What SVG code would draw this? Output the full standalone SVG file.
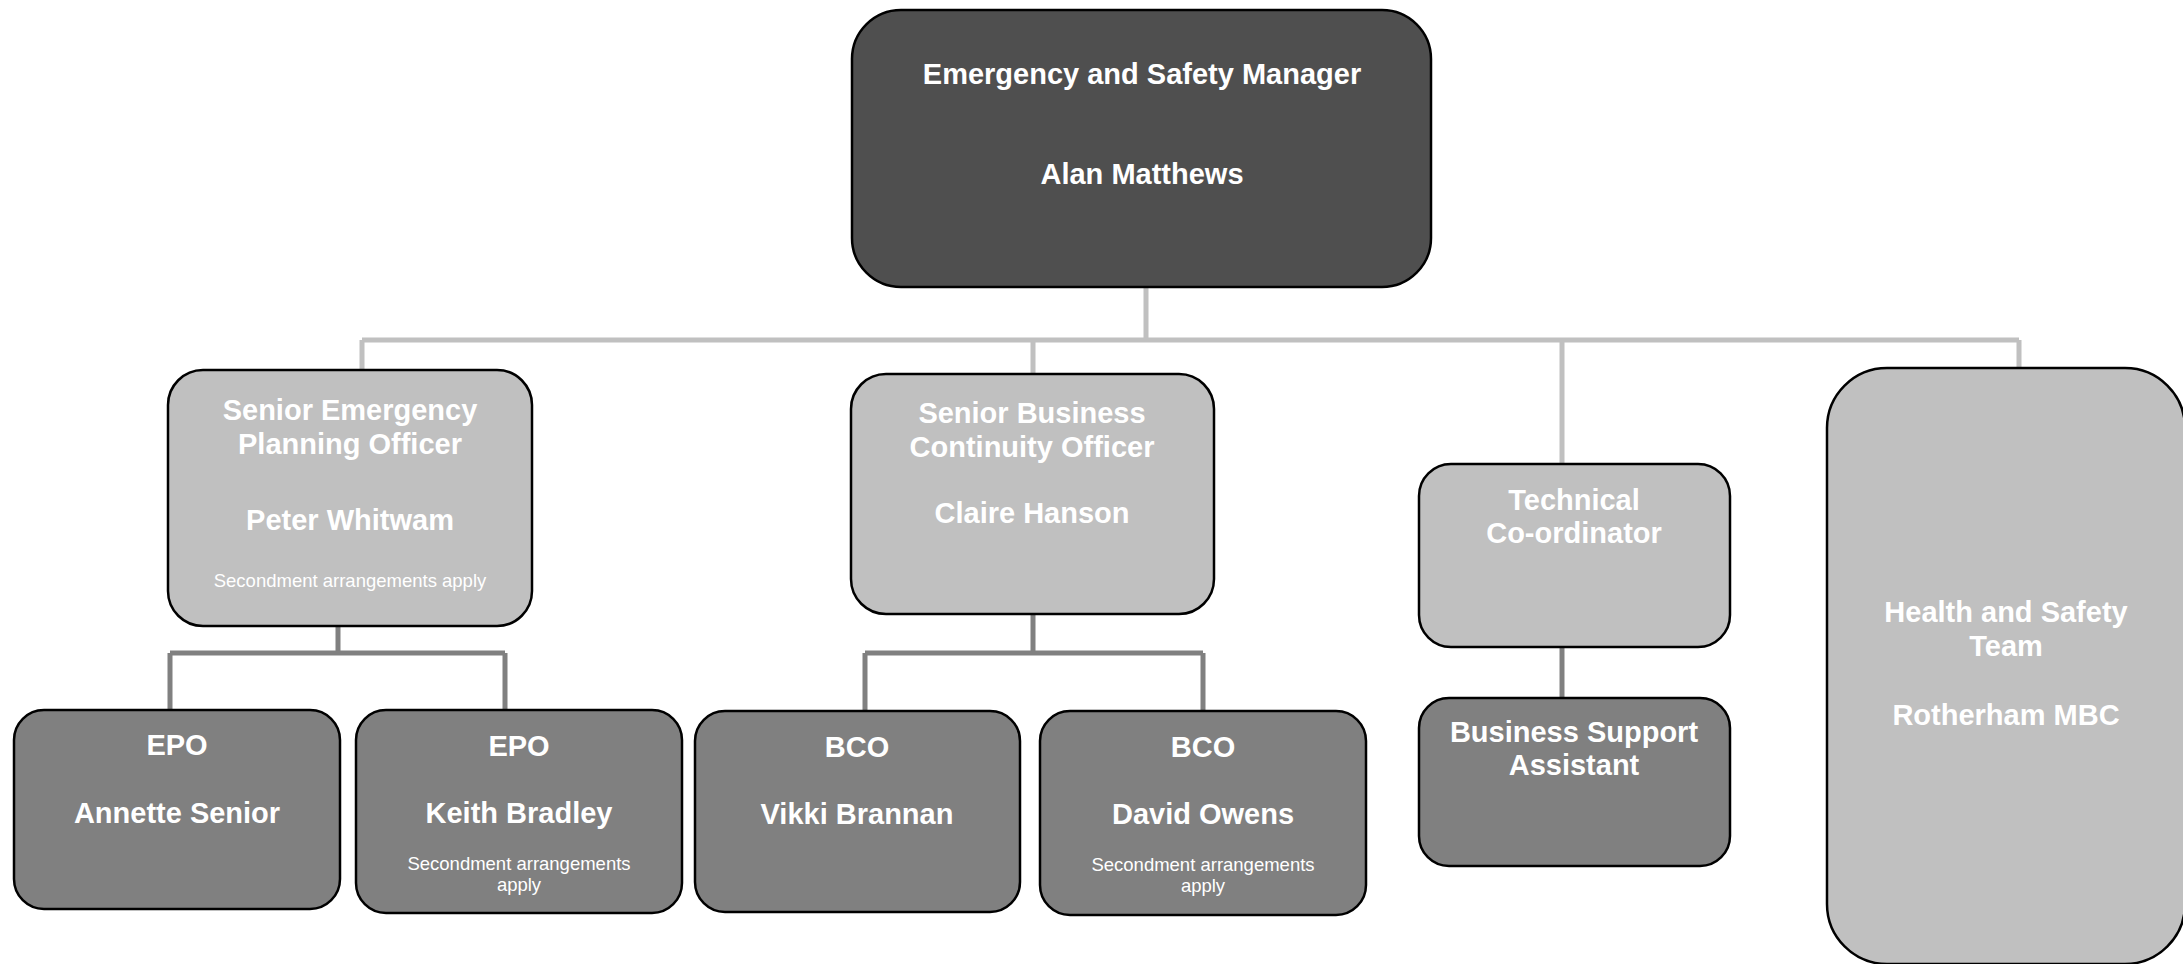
<svg xmlns="http://www.w3.org/2000/svg" width="2183" height="964" viewBox="0 0 2183 964">
<style>
.box{stroke:#000;stroke-width:2.5}
.dark{fill:#4f4f4f}
.mid{fill:#c0c0c0}
.low{fill:#808080}
.t{font-family:"Liberation Sans",Arial,sans-serif;font-weight:bold;font-size:29px;fill:#fff;text-anchor:middle}
.s{font-family:"Liberation Sans",Arial,sans-serif;font-size:18.5px;fill:#fff;text-anchor:middle}
.c1{fill:none;stroke:#c0c0c0;stroke-width:5}
.c2{fill:none;stroke:#808080;stroke-width:5}
</style>
<rect width="2183" height="964" fill="#fff"/>
<g id="connectors">
<path class="c1" d="M1146 287V340M362 340H2019M362 340V370M1033 340V374M1562 340V464M2019 340V368"/>
<path class="c2" d="M338 626V653M170 653H505M170 653V710M505 653V710"/>
<path class="c2" d="M1033 614V653M865 653H1203M865 653V711M1203 653V711"/>
<path class="c2" d="M1562 647V698"/>
</g>
<g id="manager">
<rect class="box dark" x="852" y="10" width="579" height="277" rx="49"/>
<text class="t" x="1142" y="84">Emergency and Safety Manager</text>
<text class="t" x="1142" y="184">Alan Matthews</text>
</g>
<g id="sepo">
<rect class="box mid" x="168" y="370" width="364" height="256" rx="35"/>
<text class="t" x="350" y="420">Senior Emergency</text>
<text class="t" x="350" y="454">Planning Officer</text>
<text class="t" x="350" y="530">Peter Whitwam</text>
<text class="s" x="350" y="587">Secondment arrangements apply</text>
</g>
<g id="sbco">
<rect class="box mid" x="851" y="374" width="363" height="240" rx="35"/>
<text class="t" x="1032" y="423">Senior Business</text>
<text class="t" x="1032" y="457">Continuity Officer</text>
<text class="t" x="1032" y="523">Claire Hanson</text>
</g>
<g id="tech">
<rect class="box mid" x="1419" y="464" width="311" height="183" rx="32"/>
<text class="t" x="1574" y="510">Technical</text>
<text class="t" x="1574" y="543">Co-ordinator</text>
</g>
<g id="health">
<rect class="box mid" x="1827" y="368" width="358" height="596" rx="60"/>
<text class="t" x="2006" y="622">Health and Safety</text>
<text class="t" x="2006" y="656">Team</text>
<text class="t" x="2006" y="725">Rotherham MBC</text>
</g>
<g id="epo1">
<rect class="box low" x="14" y="710" width="326" height="199" rx="30"/>
<text class="t" x="177" y="755">EPO</text>
<text class="t" x="177" y="823">Annette Senior</text>
</g>
<g id="epo2">
<rect class="box low" x="356" y="710" width="326" height="203" rx="30"/>
<text class="t" x="519" y="756">EPO</text>
<text class="t" x="519" y="823">Keith Bradley</text>
<text class="s" x="519" y="870">Secondment arrangements</text>
<text class="s" x="519" y="891">apply</text>
</g>
<g id="bco1">
<rect class="box low" x="695" y="711" width="325" height="201" rx="30"/>
<text class="t" x="857" y="757">BCO</text>
<text class="t" x="857" y="824">Vikki Brannan</text>
</g>
<g id="bco2">
<rect class="box low" x="1040" y="711" width="326" height="204" rx="30"/>
<text class="t" x="1203" y="757">BCO</text>
<text class="t" x="1203" y="824">David Owens</text>
<text class="s" x="1203" y="871">Secondment arrangements</text>
<text class="s" x="1203" y="892">apply</text>
</g>
<g id="bsa">
<rect class="box low" x="1419" y="698" width="311" height="168" rx="30"/>
<text class="t" x="1574" y="742">Business Support</text>
<text class="t" x="1574" y="775">Assistant</text>
</g>
</svg>
